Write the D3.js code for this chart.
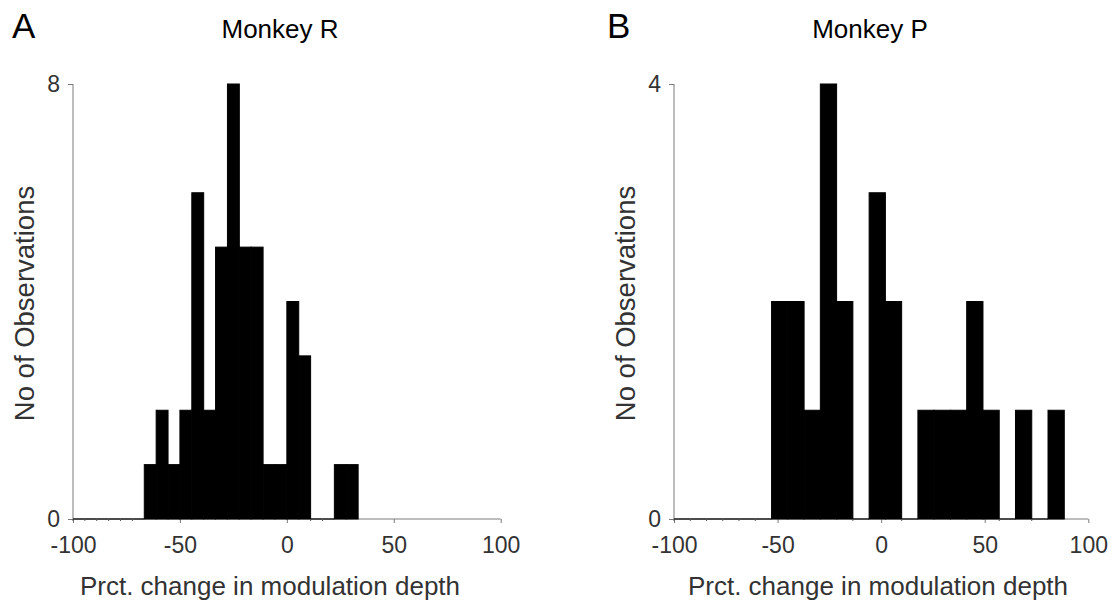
<!DOCTYPE html>
<html>
<head>
<meta charset="utf-8">
<script src="https://cdn.jsdelivr.net/npm/d3@7/dist/d3.min.js"></script>
<style>
  html, body { margin: 0; padding: 0; background: #fff; }
  svg { display: block; }
  text { font-family: "Liberation Sans", Arial, Helvetica, sans-serif; }
</style>
</head>
<body>
<svg id="chart" width="1113" height="605"></svg>
<script>
// ---- data ----
const panelLetters = ["A", "B"];
const panelTitles = ["Monkey R", "Monkey P"];
const xTicks = [-100, -50, 0, 50, 100];
const xDomain = [-100, 100];
// Monkey R histogram: bins start at -100, width 200/36
const binStartR = -100;
const binWidthR = 200 / 36;
const countsR = [0, 0, 0, 0, 0, 0, 1, 2, 1, 2, 6, 2, 5, 8, 5, 5, 1, 1, 4, 3, 0, 0, 1, 1];
const yTicksR = [0, 8];
// Monkey P histogram: bins start at -100, width ~7.85
const binStartP = -100;
const binWidthP = 7.85;
const countsP = [0, 0, 0, 0, 0, 0, 2, 2, 1, 4, 2, 0, 3, 2, 0, 1, 1, 1, 2, 1, 0, 1, 0, 1];
const yTicksP = [0, 4];
const xLabel = "Prct. change in modulation depth";
const yLabel = "No of Observations";

const svg = d3.select("#chart");

function panel(cfg) {
  const x = d3.scaleLinear().domain(xDomain).range([cfg.x0, cfg.x1]);
  const y = d3.scaleLinear().domain([0, cfg.yMax]).range([cfg.yBottom, cfg.yTop]);
  const g = svg.append("g");

  const bins = cfg.counts.map((c, i) => ({
    x0: cfg.binStart + i * cfg.binWidth,
    x1: cfg.binStart + (i + 1) * cfg.binWidth,
    c: c
  }));

  // axes
  const xAxis = d3.axisBottom(x).tickValues(xTicks).tickSize(4).tickPadding(9).tickFormat(d3.format("d"));
  const gx = g.append("g").attr("transform", `translate(0,${cfg.yBottom})`).call(xAxis);
  gx.select(".domain").attr("stroke", "#7a7a7a").attr("d", `M${cfg.x0},0H${cfg.x1}`);
  gx.selectAll(".tick line").attr("stroke", "#7a7a7a");
  gx.selectAll(".tick text").attr("fill", "#333").attr("font-size", 23).attr("dy", "0.9em")
    .text(d => d < 0 ? "-" + Math.abs(d) : d);

  const yAxis = d3.axisLeft(y).tickValues(cfg.yTicks).tickSize(5).tickPadding(8).tickFormat(d3.format("d"));
  const gy = g.append("g").attr("transform", `translate(${cfg.x0},0)`).call(yAxis);
  gy.select(".domain").attr("stroke", "#7a7a7a").attr("d", `M0,${cfg.yBottom}V${cfg.yTop}`);
  gy.selectAll(".tick line").attr("stroke", "#7a7a7a");
  gy.selectAll(".tick text").attr("fill", "#333").attr("font-size", 23);

  // bars
  g.append("g").selectAll("rect")
    .data(bins.filter(b => b.c > 0))
    .join("rect")
    .attr("x", b => x(b.x0))
    .attr("width", b => x(b.x1) - x(b.x0))
    .attr("y", b => y(b.c))
    .attr("height", b => y(0) - y(b.c))
    .attr("fill", "#000")
    .attr("stroke", "#000")
    .attr("stroke-width", 1);

  // zero-height bins: black line on the baseline with small edge ticks
  const zero = bins.filter(b => b.c === 0);
  g.append("g").selectAll("line.z")
    .data(zero)
    .join("line")
    .attr("x1", b => x(b.x0)).attr("x2", b => x(b.x1))
    .attr("y1", y(0)).attr("y2", y(0))
    .attr("stroke", "#000").attr("stroke-width", 1.2);
  g.append("g").selectAll("line.e")
    .data(zero)
    .join("line")
    .attr("x1", b => x(b.x0)).attr("x2", b => x(b.x0))
    .attr("y1", y(0)).attr("y2", y(0) + 2)
    .attr("stroke", "#555").attr("stroke-width", 1);

  // labels
  g.append("text")
    .attr("x", cfg.xLabelX)
    .attr("y", 595)
    .attr("text-anchor", "middle")
    .attr("font-size", 26)
    .attr("fill", "#333")
    .text(xLabel);
  g.append("text")
    .attr("transform", `translate(${cfg.yLabelX},${(cfg.yTop + cfg.yBottom) / 2 + 2}) rotate(-90)`)
    .attr("text-anchor", "middle")
    .attr("font-size", 27.5)
    .attr("fill", "#333")
    .text(yLabel);
  g.append("text")
    .attr("x", cfg.titleX)
    .attr("y", 38)
    .attr("text-anchor", "middle")
    .attr("font-size", 26)
    .attr("fill", "#000")
    .text(cfg.title);
  g.append("text")
    .attr("x", cfg.letterX)
    .attr("y", 38)
    .attr("font-size", 35)
    .attr("fill", "#000")
    .text(cfg.letter);
}

panel({
  x0: 73, x1: 500.7, yTop: 84, yBottom: 519, yMax: 8, yTicks: yTicksR,
  binStart: binStartR, binWidth: binWidthR, counts: countsR,
  title: panelTitles[0], titleX: 280, letter: panelLetters[0], letterX: 12, yLabelX: 34, xLabelX: 270
});
panel({
  x0: 674, x1: 1088.3, yTop: 84, yBottom: 519, yMax: 4, yTicks: yTicksP,
  binStart: binStartP, binWidth: binWidthP, counts: countsP,
  title: panelTitles[1], titleX: 870, letter: panelLetters[1], letterX: 607, yLabelX: 635, xLabelX: 878
});
</script>
</body>
</html>
